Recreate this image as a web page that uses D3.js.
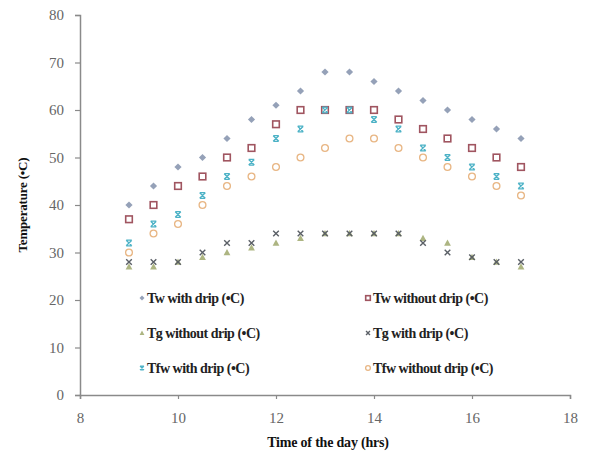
<!DOCTYPE html>
<html><head><meta charset="utf-8">
<script src="https://cdn.jsdelivr.net/npm/d3@7"></script>
<style>body{margin:0;background:#fff}svg{display:block}</style>
</head><body>
<script>
const hours = [9,9.5,10,10.5,11,11.5,12,12.5,13,13.5,14,14.5,15,15.5,16,16.5,17];
const twWithDrip     = [40,44,48,50,54,58,61,64,68,68,66,64,62,60,58,56,54];
const twWithoutDrip  = [37,40,44,46,50,52,57,60,60,60,60,58,56,54,52,50,48];
const tgWithoutDrip  = [27,27,28,29,30,31,32,33,34,34,34,34,33,32,29,28,27];
const tgWithDrip     = [28,28,28,30,32,32,34,34,34,34,34,34,32,30,29,28,28];
const tfwWithDrip    = [32,36,38,42,46,49,54,56,60,60,58,56,52,50,48,46,44];
const tfwWithoutDrip = [30,34,36,40,44,46,48,50,52,54,54,52,50,48,46,44,42];
const seriesNames = ["Tw with drip (\u2022C)","Tw without drip (\u2022C)","Tg without drip (\u2022C)","Tg with drip (\u2022C)","Tfw with drip (\u2022C)","Tfw without  drip (\u2022C)"];
const xTicks = [8,10,12,14,16,18];
const yTicks = [0,10,20,30,40,50,60,70,80];

const W=595,H=461;
const svg=d3.select("body").append("svg").attr("width",W).attr("height",H);
const x=d3.scaleLinear().domain([8,18]).range([80,570]);
const y=d3.scaleLinear().domain([0,80]).range([395,15]);
const axisColor="#8a8a8a";
const font="'Liberation Serif','Times New Roman',serif";

const xa=svg.append("g").attr("transform","translate(0,395)").call(d3.axisBottom(x).tickValues(xTicks).tickSize(4).tickPadding(13).tickFormat(d3.format("d")));
const ya=svg.append("g").attr("transform","translate(80,0)").call(d3.axisLeft(y).tickValues(yTicks).tickSize(5).tickPadding(11).tickFormat(d3.format("d")));
[xa,ya].forEach(a=>{
  a.select(".domain").attr("stroke",axisColor).attr("stroke-width",1.5);
  a.selectAll(".tick line").attr("stroke",axisColor).attr("stroke-width",1.2);
  a.selectAll(".tick text").attr("fill","#666").attr("font-family",font).attr("font-size",15);
});

svg.append("text").attr("x",328).attr("y",447).attr("text-anchor","middle")
  .attr("font-family",font).attr("font-weight","bold").attr("font-size",14).attr("letter-spacing",-0.2).attr("fill","#111")
  .text("Time of the day (hrs)");
svg.append("text").attr("transform","translate(27,205) rotate(-90)").attr("text-anchor","middle")
  .attr("font-family",font).attr("font-weight","bold").attr("font-size",13).attr("letter-spacing",-0.2).attr("fill","#111")
  .text("Temperature (\u2022C)");

const styles=[
  {data:twWithDrip, type:"diamond", color:"#95a1b8"},
  {data:twWithoutDrip, type:"square", color:"#a05560"},
  {data:tgWithoutDrip, type:"triangle", color:"#adb582"},
  {data:tgWithDrip, type:"x", color:"#5a5f66"},
  {data:tfwWithDrip, type:"star", color:"#4cb2c6"},
  {data:tfwWithoutDrip, type:"circle", color:"#e8b684"}
];

function drawMarker(g,type,color,s){
  s=s||1;
  if(type==="diamond"){
    const r=3.6*s;
    g.append("path").attr("d",`M0,${-r}L${r},0L0,${r}L${-r},0Z`).attr("fill",color);
  } else if(type==="square"){
    g.append("rect").attr("x",-3.3*s).attr("y",-3.3*s).attr("width",6.6*s).attr("height",6.6*s)
      .attr("fill","none").attr("stroke",color).attr("stroke-width",1.6);
  } else if(type==="triangle"){
    const r=3.4*s;
    g.append("path").attr("d",`M0,${-r}L${r},${r*0.8}L${-r},${r*0.8}Z`).attr("fill",color);
  } else if(type==="x"){
    const r=2.8*s;
    g.append("path").attr("d",`M${-r},${-r}L${r},${r}M${-r},${r}L${r},${-r}`).attr("stroke",color).attr("stroke-width",1.4);
  } else if(type==="star"){
    const r=2.8*s;
    g.append("path").attr("d",`M${-r},${-r}L${r},${r}M${-r},${r}L${r},${-r}M${-r},${-r}L${r},${-r}M${-r},${r}L${r},${r}`).attr("stroke",color).attr("stroke-width",1.3);
  } else if(type==="circle"){
    g.append("circle").attr("r",3.4*s).attr("fill","none").attr("stroke",color).attr("stroke-width",1.3);
  }
}

styles.forEach(st=>{
  const g=svg.append("g");
  hours.forEach((h,i)=>{
    const m=g.append("g").attr("transform",`translate(${x(h)},${y(st.data[i])})`);
    drawMarker(m,st.type,st.color,1);
  });
});

const legendPos=[[142,298],[368,298],[142,333],[368,333],[142,368],[368,368]];
styles.forEach((st,i)=>{
  const [lx,ly]=legendPos[i];
  const m=svg.append("g").attr("transform",`translate(${lx},${ly})`);
  drawMarker(m,st.type,st.color,0.7);
  svg.append("text").attr("x",lx+5).attr("y",ly+5).attr("font-family",font).attr("font-size",14).attr("font-weight","bold")
    .attr("letter-spacing",-0.5).attr("fill","#222").text(seriesNames[i]);
});
</script>
</body></html>
